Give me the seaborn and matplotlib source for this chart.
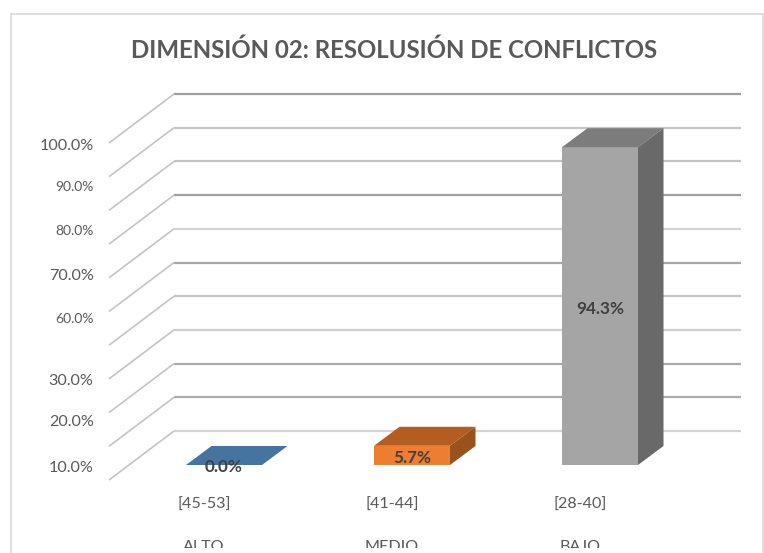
import matplotlib
matplotlib.use("Agg")
import matplotlib.pyplot as plt
import seaborn as sns
import pandas as pd
from matplotlib.lines import Line2D
from matplotlib.transforms import Bbox

# ---- data -------------------------------------------------------------
ranges = ["[45-53]", "[41-44]", "[28-40]"]
levels = ["ALTO", "MEDIO", "BAJO"]
values = [0.0, 5.7, 94.3]
value_labels = ["0.0%", "5.7%", "94.3%"]
front_colors = ["#44749F", "#ED7D31", "#A5A5A5"]
top_colors = ["#44749F", "#B35D22", "#7C7C7C"]
side_colors = ["#44749F", "#99521B", "#696969"]
grid_values = [0, 10, 20, 30, 40, 50, 60, 70, 80, 90, 100]
grid_colors = ["#D4D4D4", "#ABABAB", "#ABABAB", "#D0D0D0", "#C4C4C4", "#A8A8A8",
               "#D4D4D4", "#A0A0A0", "#C4C4C4", "#C4C4C4", "#A0A0A0"]
y_labels = ["100.0%", "90.0%", "80.0%", "70.0%", "60.0%", "30.0%", "20.0%", "10.0%"]
y_label_pos = [95.2, 82.8, 69.8, 56.4, 43.6, 25.5, 13.1, -0.3]
y_label_size = [11.6, 10, 10, 11.6, 10, 11.6, 11.6, 11.6]

# ---- layout -----------------------------------------------------------
W, H, DPI = 764, 553, 100
PX_X = 188.0      # pixels per category
PX_Y = 3.37       # pixels per percentage point
X0_PX, Y0_PX = 224.0, 465.0     # pixel of category 0 / value 0
AX_L, AX_R, AX_T, AX_B = 109, 741, 94, 480

sns.set_theme(style="white")
plt.rcParams["font.family"] = ["Lato", "DejaVu Sans"]
fig = plt.figure(figsize=(W / DPI, H / DPI), dpi=DPI, facecolor="white")
ax = fig.add_axes([AX_L / W, 1 - AX_B / H, (AX_R - AX_L) / W, (AX_B - AX_T) / H])


def dx(px):
    return (px - X0_PX) / PX_X


def dy(px):
    return (Y0_PX - px) / PX_Y


df = pd.DataFrame({"rango": ranges, "valor": values, "nivel": levels})
ax.set_xlim(dx(AX_L), dx(AX_R))
ax.set_ylim(dy(AX_B), dy(AX_T))

# floor / wall grid
back_x, front_x, right_x = dx(174), dx(109), dx(741)
wall_rise, front_drop = dy(431), dy(480)
for v, c in zip(grid_values, grid_colors):
    ax.plot([back_x, right_x], [v + wall_rise] * 2, color=c, lw=1.6, zorder=1,
            clip_on=False, solid_capstyle="butt")
    ax.plot([front_x, back_x], [v + front_drop, v + wall_rise], color="#C4C4C4", lw=1.2,
            zorder=1, clip_on=False, solid_capstyle="butt")

# front faces
BAR_W = 76 / PX_X
sns.barplot(data=df, x="rango", y="valor", hue="rango", palette=front_colors, legend=False,
            width=BAR_W, saturation=1, ax=ax, zorder=3, order=ranges, linewidth=0)
ax.set_xlim(dx(AX_L), dx(AX_R))
ax.set_ylim(dy(AX_B), dy(AX_T))

# 3-D faces computed from the values
DEPTH_X, DEPTH_Y = 25.5 / PX_X, 19 / PX_Y
for i, v in enumerate(values):
    l, r = i - BAR_W / 2, i + BAR_W / 2
    ax.fill([l, r, r + DEPTH_X, l + DEPTH_X], [v, v, v + DEPTH_Y, v + DEPTH_Y],
            color=top_colors[i], lw=0, zorder=4)
    if v > 0:
        ax.fill([r, r + DEPTH_X, r + DEPTH_X, r], [0, DEPTH_Y, v + DEPTH_Y, v],
                color=side_colors[i], lw=0, zorder=4)

# data labels
label_y = [dy(466.5), dy(458), dy(309)]
for i, t in enumerate(value_labels):
    ax.text(i, label_y[i], t, ha="center", va="center", fontsize=12.3, fontweight="bold",
            color="#404040", zorder=6)

# axis ticks
for s in ax.spines.values():
    s.set_visible(False)
ax.set_xlabel("")
ax.set_ylabel("")
ax.set_yticks(y_label_pos)
ax.set_yticklabels(y_labels, color="#595959")
for lab, s in zip(ax.get_yticklabels(), y_label_size):
    lab.set_fontsize(s)
ax.tick_params(axis="y", length=0, pad=11)
tick_shift = -20 / PX_X
ax.set_xticks([i + tick_shift for i in range(len(ranges))])
ax.set_xticklabels(ranges, color="#595959", fontsize=11.6)
ax.tick_params(axis="x", length=0, pad=12.5)
ax.grid(False)
ax.patch.set_alpha(0)

# second category level, cut off at the picture's lower edge
clip = Bbox([[0, H - 548], [W, H]])
for i, t in enumerate(levels):
    txt = ax.text(i + tick_shift, dy(540), t, ha="center", va="top", fontsize=11.6,
                  color="#595959", clip_on=True)
    txt.set_clip_box(clip)

# title and outer frame
fig.text(394 / W, 1 - 50.5 / H, "DIMENSIÓN 02: RESOLUSIÓN DE CONFLICTOS", ha="center", va="center",
         fontsize=17.3, fontweight="bold", color="#595959")
frame = "#D9D9D9"
fig.add_artist(Line2D([11 / W, 11 / W], [0, 1 - 14 / H], color=frame, lw=1.2))
fig.add_artist(Line2D([11 / W, 763 / W], [1 - 14 / H] * 2, color=frame, lw=1.2))
fig.add_artist(Line2D([763 / W, 763 / W], [0, 1 - 14 / H], color=frame, lw=1.2))

fig.savefig("out.png", dpi=DPI, facecolor="white")
